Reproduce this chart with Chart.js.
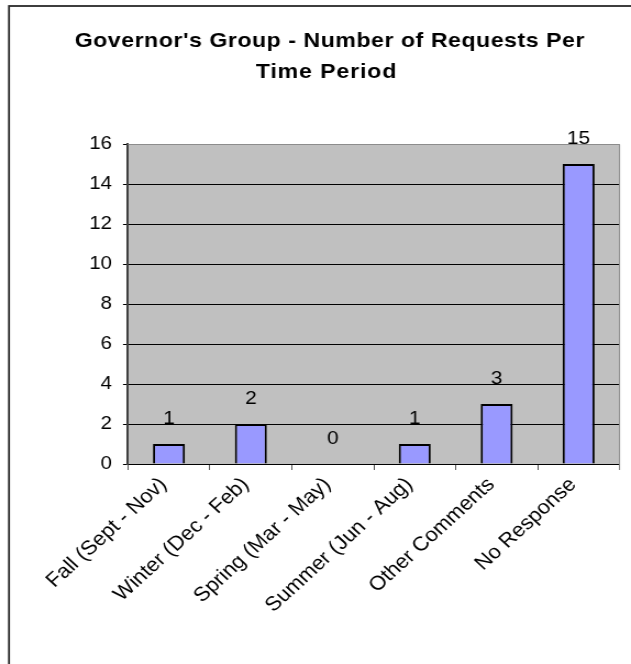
<!DOCTYPE html>
<html>
<head>
<meta charset="utf-8">
<script src="https://cdn.jsdelivr.net/npm/chart.js@4/dist/chart.umd.min.js"></script>
<style>
  html, body { margin: 0; padding: 0; background: #ffffff; overflow: hidden; }
  #wrap { width: 574px; height: 664px; transform: scale(1.0993, 1); transform-origin: 0 0; }
  canvas { display: block; }
</style>
</head>
<body>
<div id="wrap"><canvas id="c" width="574" height="664"></canvas></div>
<script>
const titleLines = ["Governor's Group - Number of Requests Per", "Time Period"];
const categories = ["Fall (Sept - Nov)", "Winter (Dec - Feb)", "Spring (Mar - May)", "Summer (Jun - Aug)", "Other Comments", "No Response"];
const requestCounts = [1, 2, 0, 1, 3, 15];
const yTickValues = [0, 2, 4, 6, 8, 10, 12, 14, 16];

const FONT = "'Liberation Sans', Arial, sans-serif";

const framePlugin = {
  id: 'frame',
  beforeDraw(chart) {
    const ctx = chart.ctx, a = chart.chartArea;
    ctx.save();
    ctx.fillStyle = '#ffffff';
    ctx.fillRect(0, 0, chart.width, chart.height);
    ctx.fillStyle = '#C0C0C0';
    ctx.fillRect(a.left, a.top, a.right - a.left, a.bottom - a.top);
    ctx.restore();
  },
  afterDraw(chart) {
    const ctx = chart.ctx, a = chart.chartArea;
    ctx.save();
    ctx.strokeStyle = '#8c8c8c';
    ctx.lineWidth = 1;
    ctx.beginPath();
    ctx.moveTo(a.left, a.top + 0.5);
    ctx.lineTo(a.right, a.top + 0.5);
    ctx.lineTo(a.right, a.bottom + 6);
    ctx.stroke();
    ctx.strokeStyle = '#2a2a2a';
    ctx.lineWidth = 1.8;
    ctx.strokeRect(8.2, 6, 700, 700);
    ctx.fillStyle = '#000';
    ctx.font = 'bold 21px ' + FONT;
    ctx.textAlign = 'center';
    ctx.textBaseline = 'alphabetic';
    ctx.letterSpacing = '0.5px';
    ctx.fillText(titleLines[0], 300, 47);
    ctx.letterSpacing = '0.8px';
    ctx.fillText(titleLines[1], 297, 77.5);
    ctx.restore();
  },
  afterDatasetsDraw(chart) {
    const ctx = chart.ctx;
    const meta = chart.getDatasetMeta(0);
    ctx.save();
    ctx.fillStyle = '#000';
    ctx.font = '19px ' + FONT;
    ctx.textAlign = 'center';
    ctx.textBaseline = 'alphabetic';
    meta.data.forEach((bar, i) => {
      ctx.fillText(String(requestCounts[i]), bar.x, bar.y - 20);
    });
    ctx.restore();
  }
};

new Chart(document.getElementById('c'), {
  type: 'bar',
  data: {
    labels: categories,
    datasets: [{
      data: requestCounts,
      backgroundColor: '#9999FF',
      borderColor: '#000000',
      borderWidth: 2,
      categoryPercentage: 1.0,
      barPercentage: 0.39
    }]
  },
  options: {
    responsive: false,
    animation: false,
    devicePixelRatio: 1,
    layout: { padding: { top: 144, left: 0, right: 10.4, bottom: 0 } },
    plugins: {
      legend: { display: false },
      title: { display: false },
      tooltip: { enabled: false }
    },
    scales: {
      x: {
        offset: true,
        grid: {
          offset: true,
          drawOnChartArea: false,
          drawTicks: true,
          tickLength: 6,
          tickColor: '#555555',
          tickWidth: 1
        },
        border: { display: true, color: '#000000', width: 1 },
        ticks: {
          color: '#000',
          font: { family: FONT, size: 20 },
          maxRotation: 45,
          minRotation: 45,
          autoSkip: false,
          padding: 3,
          labelOffset: -5
        },
        afterFit(scale) { scale.height = 200; }
      },
      y: {
        min: 0,
        max: 16,
        afterBuildTicks(scale) { scale.ticks = yTickValues.map(v => ({ value: v })); },
        grid: {
          color: (c) => (c.tick && c.tick.value === 16) ? '#8c8c8c' : '#000000',
          lineWidth: 1,
          tickLength: 4.5,
          tickColor: '#000000'
        },
        border: { display: true, color: '#404040', width: 2 },
        ticks: {
          color: '#000',
          font: { family: FONT, size: 18.5 },
          padding: 10
        },
        afterFit(scale) { scale.width = 116.4; }
      }
    }
  },
  plugins: [framePlugin]
});
</script>
</body>
</html>
